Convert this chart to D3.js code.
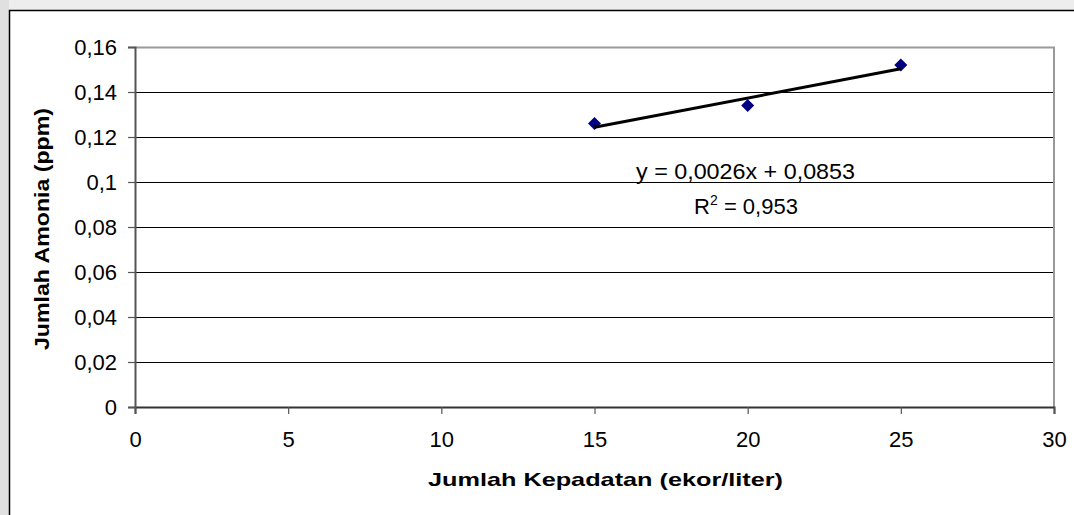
<!DOCTYPE html>
<html>
<head>
<meta charset="utf-8">
<script src="https://cdn.jsdelivr.net/npm/d3@7"></script>
<style>
  html, body { margin: 0; padding: 0; background: #fff; }
  svg { display: block; font-family: "Liberation Sans", Arial, sans-serif; }
</style>
</head>
<body>
<svg id="chart" width="1074" height="515"></svg>
<script>
// Ammonia level against stocking density
const density = [15, 20, 25];
const ammonia = [0.126, 0.134, 0.152];

// Linear trendline as printed on the chart
const trendSlope = 0.0026;
const trendIntercept = 0.0853;
const trendR2 = "0,953";
const trendFrom = 15, trendTo = 25;

const xTicks = [0, 5, 10, 15, 20, 25, 30];
const yTicks = [0, 0.02, 0.04, 0.06, 0.08, 0.1, 0.12, 0.14, 0.16];

const xTitle = "Jumlah Kepadatan (ekor/liter)";
const yTitle = "Jumlah Amonia (ppm)";

const fmtComma = v => String(+v.toFixed(4)).replace(".", ",");

const svg = d3.select("#chart");
const W = 1074, H = 515;

// page margin strips outside the chart frame
svg.append("rect").attr("x", 0).attr("y", 0).attr("width", W).attr("height", 10).attr("fill", "#ededed");
svg.append("rect").attr("x", 0).attr("y", 0).attr("width", 9).attr("height", H).attr("fill", "#e0e0e0");
// chart frame
svg.append("rect").attr("x", 9.5).attr("y", 10.5).attr("width", W + 10).attr("height", H + 10)
  .attr("fill", "#fff").attr("stroke", "#000").attr("stroke-width", 1.5);

const x = d3.scaleLinear().domain([0, 30]).range([135, 1054]);
const y = d3.scaleLinear().domain([0, 0.16]).range([407, 47]);

// horizontal gridlines
svg.append("g").selectAll("line").data(yTicks.filter(t => t > 0 && t < 0.16)).join("line")
  .attr("x1", x(0)).attr("x2", x(30))
  .attr("y1", d => Math.round(y(d)) + 0.5).attr("y2", d => Math.round(y(d)) + 0.5)
  .attr("stroke", "#000").attr("stroke-width", 1);

// plot area outline (top and right)
svg.append("path")
  .attr("d", `M${x(0)},${y(0.16) + 0.5}H${x(30)}V${y(0)}`)
  .attr("fill", "none").attr("stroke", "#999").attr("stroke-width", 2);

// axes
const xAxis = svg.append("g").attr("transform", `translate(0,${y(0)})`)
  .call(d3.axisBottom(x).tickValues(xTicks).tickSize(7).tickPadding(17).tickFormat(d3.format("d")));
const yAxis = svg.append("g").attr("transform", `translate(${x(0)},0)`)
  .call(d3.axisLeft(y).tickValues(yTicks).tickSize(7).tickPadding(11).tickFormat(fmtComma));

[xAxis, yAxis].forEach(g => {
  g.select(".domain").attr("stroke", "#555").attr("stroke-width", 2);
  g.selectAll(".tick line").attr("stroke", "#555").attr("stroke-width", 1.2);
  g.selectAll(".tick text").attr("fill", "#000").attr("font-size", 22)
    .attr("font-family", "Liberation Sans, Arial, sans-serif");
});
xAxis.select(".domain").attr("stroke", "#333");

// data markers
const diamond = "M0,-6.5L6.5,0L0,6.5L-6.5,0Z";
svg.append("g").selectAll("path").data(density.map((d, i) => [d, ammonia[i]])).join("path")
  .attr("d", diamond)
  .attr("transform", d => `translate(${x(d[0])},${y(d[1])})`)
  .attr("fill", "#000080");

// trendline
svg.append("line")
  .attr("x1", x(trendFrom)).attr("y1", y(trendSlope * trendFrom + trendIntercept))
  .attr("x2", x(trendTo)).attr("y2", y(trendSlope * trendTo + trendIntercept))
  .attr("stroke", "#000").attr("stroke-width", 3);

// trendline equation and R²
svg.append("text").attr("x", 745.5).attr("y", 179).attr("text-anchor", "middle")
  .attr("font-size", 22).attr("textLength", 219).attr("lengthAdjust", "spacingAndGlyphs")
  .text(`y = ${fmtComma(trendSlope)}x + ${fmtComma(trendIntercept)}`);
const r2 = svg.append("text").attr("x", 746).attr("y", 214).attr("text-anchor", "middle")
  .attr("font-size", 22);
r2.append("tspan").text("R");
r2.append("tspan").attr("dy", -9).attr("font-size", 14).text("2");
r2.append("tspan").attr("dy", 9).text(" = " + trendR2);

// axis titles
svg.append("text").attr("x", 605.5).attr("y", 486).attr("text-anchor", "middle")
  .attr("font-size", 19).attr("font-weight", "bold")
  .attr("textLength", 355).attr("lengthAdjust", "spacingAndGlyphs").text(xTitle);
svg.append("text").attr("transform", "translate(49,229) rotate(-90)").attr("text-anchor", "middle")
  .attr("font-size", 20).attr("font-weight", "bold")
  .attr("textLength", 242).attr("lengthAdjust", "spacingAndGlyphs").text(yTitle);
</script>
</body>
</html>
